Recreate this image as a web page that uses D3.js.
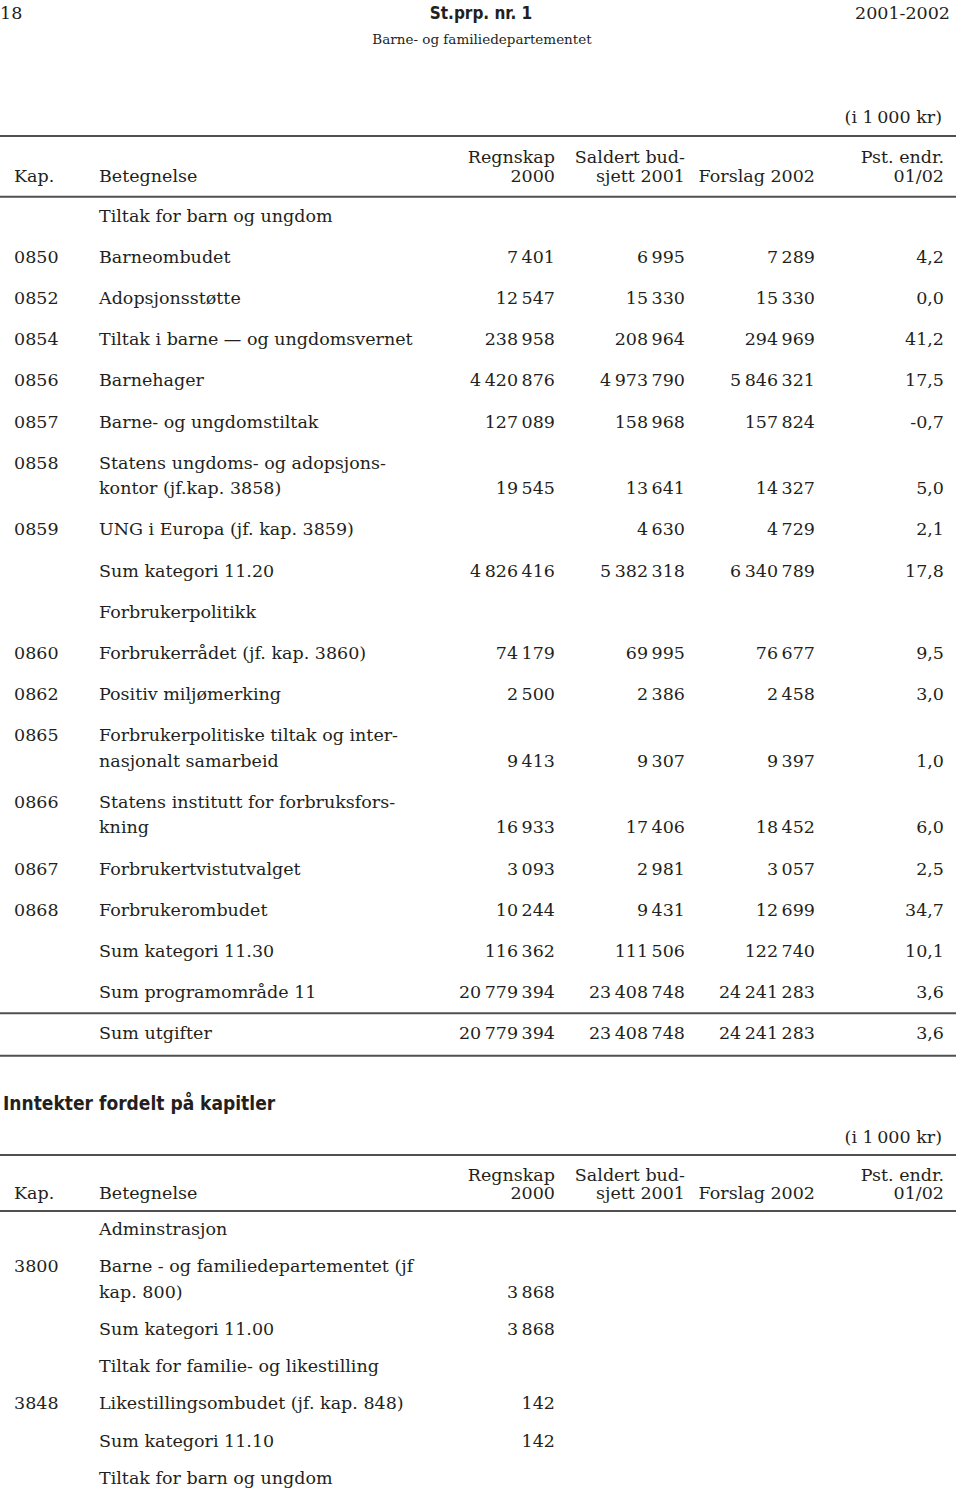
<!DOCTYPE html>
<html lang="no">
<head>
    <meta charset="UTF-8">
    <title>St.prp. nr. 1</title>
    <script src="https://cdn.jsdelivr.net/npm/d3@7"></script>
    <style>
        body { margin: 0; background: #fff; }
        svg { display: block; }
        text {
            font-family: "DejaVu Serif", serif;
            font-size: 17.5px;
            fill: #231f20;
        }
        .sans { font-family: "DejaVu Sans Condensed", "DejaVu Sans", sans-serif; font-weight: bold; }
        .rule { stroke: #505050; stroke-width: 2; }
    </style>
</head>
<body>
<script>
    // ---- data: utgifter ----
    const kap1 = ["", "0850", "0852", "0854", "0856", "0857", "0858", "0859", "", "", "0860", "0862", "0865", "0866", "0867", "0868", "", "", ""];
    const label1 = ["Tiltak for barn og ungdom", "Barneombudet", "Adopsjonsstøtte", "Tiltak i barne — og ungdomsvernet",
        "Barnehager", "Barne- og ungdomstiltak", "Statens ungdoms- og adopsjons-|kontor (jf.kap. 3858)",
        "UNG i Europa (jf. kap. 3859)", "Sum kategori 11.20", "Forbrukerpolitikk", "Forbrukerrådet (jf. kap. 3860)",
        "Positiv miljømerking", "Forbrukerpolitiske tiltak og inter-|nasjonalt samarbeid",
        "Statens institutt for forbruksfors-|kning", "Forbrukertvistutvalget", "Forbrukerombudet",
        "Sum kategori 11.30", "Sum programområde 11", "Sum utgifter"];
    const regnskap1 = [null, 7401, 12547, 238958, 4420876, 127089, 19545, null, 4826416, null, 74179, 2500, 9413, 16933, 3093, 10244, 116362, 20779394, 20779394];
    const saldert1 = [null, 6995, 15330, 208964, 4973790, 158968, 13641, 4630, 5382318, null, 69995, 2386, 9307, 17406, 2981, 9431, 111506, 23408748, 23408748];
    const forslag1 = [null, 7289, 15330, 294969, 5846321, 157824, 14327, 4729, 6340789, null, 76677, 2458, 9397, 18452, 3057, 12699, 122740, 24241283, 24241283];
    const pst1 = [null, 4.2, 0.0, 41.2, 17.5, -0.7, 5.0, 2.1, 17.8, null, 9.5, 3.0, 1.0, 6.0, 2.5, 34.7, 10.1, 3.6, 3.6];

    // ---- data: inntekter ----
    const kap2 = ["", "3800", "", "", "3848", "", ""];
    const label2 = ["Adminstrasjon", "Barne - og familiedepartementet (jf|kap. 800)", "Sum kategori 11.00",
        "Tiltak for familie- og likestilling", "Likestillingsombudet (jf. kap. 848)", "Sum kategori 11.10",
        "Tiltak for barn og ungdom"];
    const regnskap2 = [null, 3868, 3868, null, 142, 142, null];

    const colHeads = [["Regnskap", "2000"], ["Saldert bud-", "sjett 2001"], ["", "Forslag 2002"], ["Pst. endr.", "01/02"]];
    const colKeys = ["regnskap", "saldert", "forslag", "pst"];

    const width = 960, height = 1492;
    const svg = d3.select("body").append("svg")
        .attr("width", width).attr("height", height);

    // norwegian number style, thin space between thousands
    const nb = d3.formatLocale({ decimal: ",", thousands: "\u2009", grouping: [3], currency: ["", " kr"], minus: "-" });
    const fmtInt = nb.format(",d");
    const fmtPct = nb.format(".1f");

    // right edges of the number columns
    const x = d3.scaleOrdinal().domain(colKeys).range([555, 685, 815, 944]);
    const xKap = 14, xLabel = 99;
    const lineGap = 25.5;

    // page header
    svg.append("text").attr("x", 0).attr("y", 19).text("18");
    svg.append("text").attr("class", "sans").attr("x", 481).attr("y", 18.5).attr("text-anchor", "middle").style("font-size", "17px").text("St.prp. nr. 1");
    svg.append("text").attr("x", 950).attr("y", 19).attr("text-anchor", "end").text("2001-2002");
    svg.append("text").attr("x", 482).attr("y", 43.5).attr("text-anchor", "middle").style("font-size", "13.5px").text("Barne- og familiedepartementet");

    function rule(yy) {
        svg.append("line").attr("class", "rule").attr("x1", 0).attr("x2", 956).attr("y1", yy).attr("y2", yy);
    }

    // p: baselines / rule positions of the table head and body
    function table(p, kaps, labels, cols) {
        const g = svg.append("g");
        g.append("text").attr("x", 942).attr("y", p.unit).attr("text-anchor", "end").text("(i 1\u2009000 kr)");
        rule(p.rule1);
        g.append("text").attr("x", xKap).attr("y", p.head2).text("Kap.");
        g.append("text").attr("x", xLabel).attr("y", p.head2).text("Betegnelse");
        colHeads.forEach((h, j) => {
            g.append("text").attr("x", x(colKeys[j])).attr("y", p.head1).attr("text-anchor", "end").text(h[0]);
            g.append("text").attr("x", x(colKeys[j])).attr("y", p.head2).attr("text-anchor", "end").text(h[1]);
        });
        rule(p.rule2);

        // row positions: each row one pitch, each extra label line adds lineGap
        const extra = labels.map(l => l.split("|").length - 1);
        const offs = labels.map((l, i) => i + d3.sum(extra.slice(0, i)) * lineGap / p.pitch);
        const y = d3.scaleLinear().domain([0, 1]).range([p.body, p.body + p.pitch]);

        const rows = g.selectAll("g.row").data(labels).join("g").attr("class", "row");
        rows.append("text").attr("x", xKap).attr("y", (d, i) => y(offs[i])).text((d, i) => kaps[i]);
        rows.each(function (d, i) {
            const lines = d.split("|");
            const r = d3.select(this);
            lines.forEach((t, k) => {
                r.append("text").attr("x", xLabel).attr("y", y(offs[i]) + k * lineGap).text(t);
            });
            const yl = y(offs[i]) + (lines.length - 1) * lineGap;
            cols.forEach(c => {
                const v = c.values[i];
                if (v == null) return;
                r.append("text").attr("x", x(c.key)).attr("y", yl)
                    .attr("text-anchor", "end").text(c.key === "pst" ? fmtPct(v) : fmtInt(v));
            });
        });
        return { y, offs };
    }

    const t1 = table({ unit: 122.5, rule1: 136, head1: 163.3, head2: 181.7, rule2: 196.7, body: 221.7, pitch: 41.17 },
        kap1, label1, [
            { key: "regnskap", values: regnskap1 },
            { key: "saldert", values: saldert1 },
            { key: "forslag", values: forslag1 },
            { key: "pst", values: pst1 }
        ]);
    // rules round "Sum utgifter"
    const last = label1.length - 1;
    rule(t1.y(t1.offs[last]) - 26);
    rule(t1.y(t1.offs[last]) + 16.6);

    svg.append("text").attr("class", "sans").attr("x", 3).attr("y", 1110)
        .style("font-size", "19px").text("Inntekter fordelt på kapitler");

    table({ unit: 1142.5, rule1: 1155, head1: 1181, head2: 1199.3, rule2: 1211, body: 1235, pitch: 37.2 },
        kap2, label2, [{ key: "regnskap", values: regnskap2 }]);
</script>
</body>
</html>
